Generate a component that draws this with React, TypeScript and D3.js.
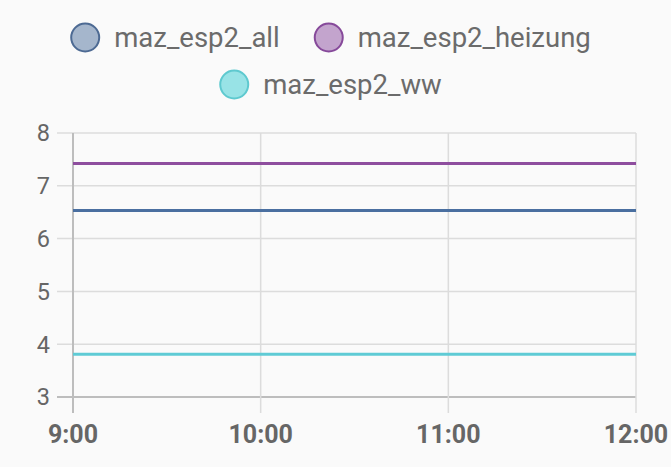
import React, { useMemo } from "react";
import * as d3 from "d3";

const WIDTH = 671;
const HEIGHT = 467;
const FONT = "Roboto, 'Noto Sans', sans-serif";

// data
const hours = [9, 10, 11, 12];
const seriesNames = ["maz_esp2_all", "maz_esp2_heizung", "maz_esp2_ww"];
const allValues = [6.53, 6.53, 6.53, 6.53];
const heizungValues = [7.42, 7.42, 7.42, 7.42];
const wwValues = [3.81, 3.81, 3.81, 3.81];
const yTicks = [3, 4, 5, 6, 7, 8];
const xTickLabels = ["9:00", "10:00", "11:00", "12:00"];

const lineColors = ["#4a6fa0", "#8e4e9e", "#5fcbd5"];
const fillColors = ["#a5b6cc", "#c3a4cd", "#98e3e6"];
const strokeColors = ["#4d6a93", "#86499a", "#5ec9cf"];

const margin = { top: 133, right: 35, bottom: 70, left: 73 };

function textWidth(s: string, font: string) {
  const c = document.createElement("canvas").getContext("2d");
  if (!c) return s.length * 14;
  c.font = font;
  return c.measureText(s).width;
}

export default function App() {
  const x = d3.scaleLinear().domain([9, 12]).range([margin.left, WIDTH - margin.right]);
  const y = d3.scaleLinear().domain([3, 8]).range([HEIGHT - margin.bottom, margin.top]);
  const series = [allValues, heizungValues, wwValues];

  const line = d3.line<number>()
    .x((_, i) => x(hours[i]))
    .y(d => y(d));

  const legendFont = `27.5px ${FONT}`;
  const R = 15;
  const gapText = 14;
  const gapItem = 34;
  const legendRows = [[0, 1], [2]];
  const rowY = [37.5, 84.5];

  const legend = useMemo(() => {
    const out: { i: number; cx: number; tx: number; cy: number }[] = [];
    legendRows.forEach((row, r) => {
      const widths = row.map(i => 2 * R + gapText + textWidth(seriesNames[i], legendFont));
      const total = d3.sum(widths) + gapItem * (row.length - 1);
      let cur = (WIDTH - total) / 2 - 5;
      row.forEach((i, k) => {
        out.push({ i, cx: cur + R, tx: cur + 2 * R + gapText, cy: rowY[r] });
        cur += widths[k] + gapItem;
      });
    });
    return out;
  }, []);

  const x0 = margin.left, x1 = WIDTH - margin.right;
  const yBottom = HEIGHT - margin.bottom;

  return (
    <svg width={WIDTH} height={HEIGHT} style={{ position: "absolute", left: 0, top: 0, background: "#fafafa" }}
      fontFamily={FONT}>
      <rect width={WIDTH} height={HEIGHT} fill="#fafafa" />

      {legend.map(l => (
        <g key={l.i}>
          <circle cx={l.cx} cy={l.cy} r={R - 1} fill={fillColors[l.i]} stroke={strokeColors[l.i]} strokeWidth={2} />
          <text x={l.tx} y={l.cy} dy="0.36em" fontSize={27.5} fill="#6b6b6b">{seriesNames[l.i]}</text>
        </g>
      ))}

      {/* horizontal grid */}
      {yTicks.map(t => (
        <g key={t}>
          <line x1={x0 - 16} x2={x1} y1={y(t)} y2={y(t)}
            stroke={t === 3 ? "#bdbdbd" : "#dcdcdc"} strokeWidth={t === 3 ? 2 : 1.5} />
          <text x={x0 - 23} y={y(t)} dy="0.36em" textAnchor="end" fontSize={23.5} fill="#666">{t}</text>
        </g>
      ))}

      {/* vertical grid */}
      {hours.map((h, i) => (
        <g key={h}>
          <line x1={x(h)} x2={x(h)} y1={margin.top} y2={yBottom + 16}
            stroke={i === 0 ? "#bdbdbd" : "#dcdcdc"} strokeWidth={i === 0 ? 2 : 1.5} />
          <text x={x(h)} y={yBottom + 46} textAnchor="middle" fontSize={25} fontWeight="bold" fill="#666">
            {xTickLabels[i]}
          </text>
        </g>
      ))}

      {series.map((vals, i) => (
        <path key={i} d={line(vals) || ""} fill="none" stroke={lineColors[i]} strokeWidth={3} />
      ))}
    </svg>
  );
}
